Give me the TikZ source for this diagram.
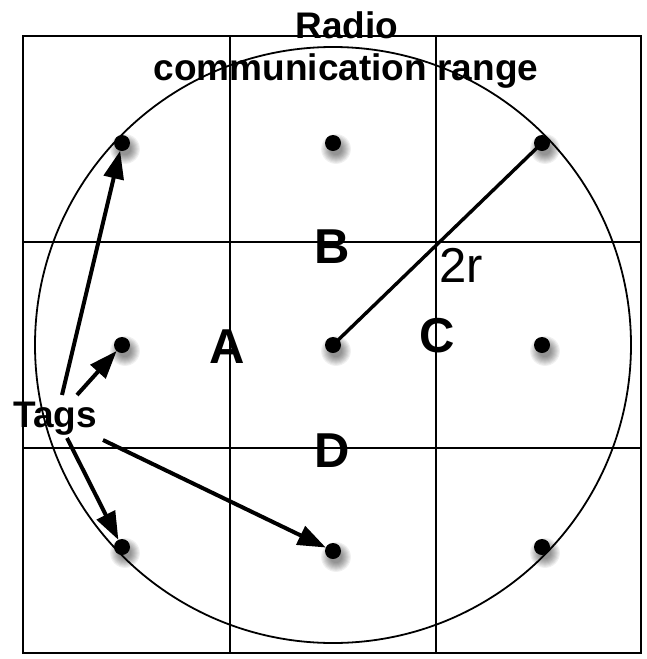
\documentclass[tikz,border=0pt]{standalone}
\usepackage{fontspec}
\setmainfont{Liberation Sans}
\usetikzlibrary{arrows.meta}
\tikzset{
  gridline/.style={line width=2.4pt},
  rangecircle/.style={line width=1.8pt},
  tagdot/.style={circle,fill=black,inner sep=0pt,minimum size=16pt,outer sep=0pt},
  tagarrow/.style={line width=4pt,-{Triangle[length=28pt,width=20pt]}},
  radius line/.style={line width=3.4pt},
  bigbold/.style={font=\fontsize{49}{52}\selectfont\bfseries,inner sep=0pt,anchor=base},
  bigreg/.style={font=\fontsize{49}{52}\selectfont,inner sep=0pt,anchor=base},
  titletext/.style={font=\fontsize{37}{40}\selectfont\bfseries,inner sep=0pt,anchor=base},
}
\begin{document}
\begin{tikzpicture}[x=1pt,y=-1pt]
\useasboundingbox (0,0) rectangle (646,659);
% shadows
\foreach \p in {(122,143),(333,143),(542,143),(122,345),(333,345),(542,345),(122,547),(333,551),(542,547)}{
  \foreach \k in {1,...,9}{
    \fill[black,opacity=0.06] \p ++(3,6) circle ({5+\k*1.1});
  }
}
% grid
\draw[gridline] (23,36) rectangle (641,653);
\draw[gridline] (230,36) -- (230,653);
\draw[gridline] (436,36) -- (436,653);
\draw[gridline] (23,242) -- (641,242);
\draw[gridline] (23,448) -- (641,448);
% range circle
\draw[rangecircle] (333,345) circle (298);
% dots
\node[tagdot] (d11) at (122,143) {};
\node[tagdot] (d12) at (333,143) {};
\node[tagdot] (d13) at (542,143) {};
\node[tagdot] (d21) at (122,345) {};
\node[tagdot] (d22) at (333,345) {};
\node[tagdot] (d23) at (542,345) {};
\node[tagdot] (d31) at (122,547) {};
\node[tagdot] (d32) at (333,551) {};
\node[tagdot] (d33) at (542,547) {};
% radius line
\draw[radius line] (d22.center) -- (d13.center);
% labels
\node[titletext] (radio) at (347,38) {Radio};
\node[titletext] (crange) at (346,80) {communication range};
\node[bigbold] (la) at (227,363) {A};
\node[bigbold] (lb) at (332,263) {B};
\node[bigbold] (lc) at (437,352) {C};
\node[bigbold] (ld) at (332,467) {D};
\node[bigreg] (l2r) at (461,282) {2r};
\node[titletext] (tags) at (55,427) {Tags};
% arrows
\coordinate (t1) at (62,395);
\coordinate (t2) at (77,395);
\coordinate (t3) at (67,438);
\coordinate (t4) at (103,440);
\draw[tagarrow] (t1) -- (d11);
\draw[tagarrow] (t2) -- (d21);
\draw[tagarrow] (t3) -- (d31);
\draw[tagarrow] (t4) -- (d32);
\end{tikzpicture}
\end{document}
